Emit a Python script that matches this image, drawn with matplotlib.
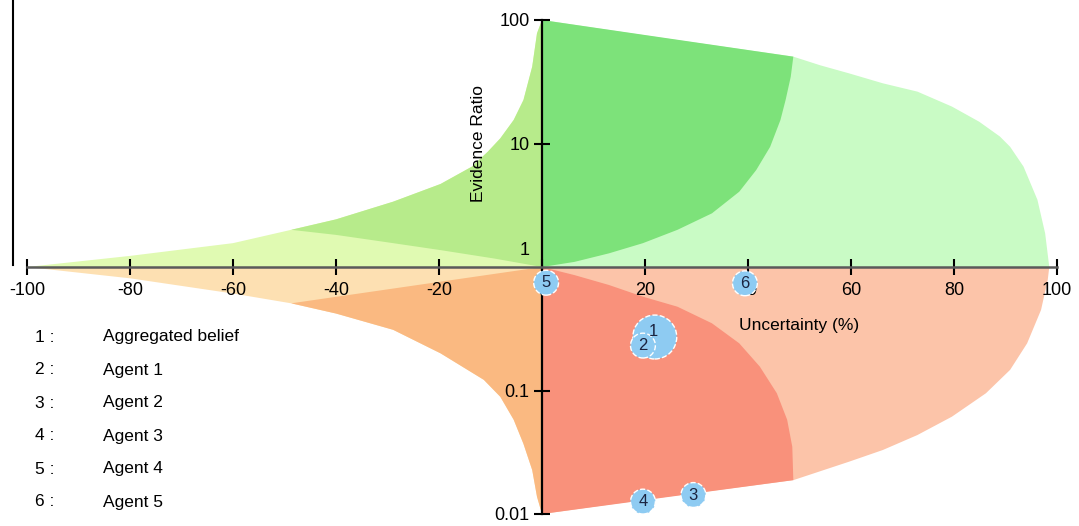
import numpy as np
import matplotlib
matplotlib.use('Agg')
import matplotlib.pyplot as plt
from matplotlib.lines import Line2D
from matplotlib.ticker import NullLocator

plt.rcParams['font.family'] = ['Liberation Sans', 'DejaVu Sans']

# ── region boundaries (uncertainty %, evidence ratio) ──
# upper right: outer edge of the light green area
ur_outer_u = [0, 24, 48.8, 54, 59.6, 66.2, 72.9, 79.6, 84.9, 88.9, 90.9, 93.5, 96.2, 97.7, 98.5]
ur_outer_r = [100, 71, 50.5, 43, 37, 30.7, 26.3, 19.9, 15, 11.4, 9.4, 6.5, 3.5, 1.87, 1]
# upper right: edge of the dark green area
ur_inner_u = [48.8, 48.3, 47.3, 46.3, 44.3, 41.6, 38.3, 33.0, 26.3, 19.6, 13.0, 6.3, 0]
ur_inner_r = [50.5, 34.7, 22.5, 15.5, 9.4, 6.1, 4.07, 2.72, 2.0, 1.56, 1.29, 1.10, 1]

# lower right: outer edge of the light salmon area
lr_outer_u = [0, 19.6, 48.8, 59.6, 66.2, 72.9, 79.6, 86.2, 90.9, 94.2, 96.9, 98.2, 98.5]
lr_outer_r = [0.01, 0.013, 0.0188, 0.0265, 0.033, 0.0436, 0.0614, 0.095, 0.147, 0.241, 0.449, 0.785, 1]
# lower right: edge of the red area
lr_inner_u = [0, 6.3, 13.0, 19.6, 26.3, 33.0, 38.3, 42.3, 45.6, 47.6, 48.6, 48.8]
lr_inner_r = [1, 0.86, 0.715, 0.575, 0.477, 0.35, 0.241, 0.156, 0.095, 0.058, 0.035, 0.0188]

# upper left
ul_outer_u = [-100, -80, -60, -48.7, -40, -28.9, -19.7, -13.6, -10.5, -8.1, -5.5, -3.6, -1.9, -0.97, 0]
ul_outer_r = [1, 1.23, 1.56, 2.0, 2.43, 3.38, 4.7, 6.5, 8.6, 11.0, 15.5, 22.5, 41.9, 78, 100]
ul_inner_u = [-48.7, -40, -28.9, -19.7, -9.2, 0]
ul_inner_r = [2.0, 1.82, 1.56, 1.37, 1.17, 1]

# lower left
ll_outer_u = [-100, -80, -60, -48.7, -40, -28.9, -19.7, -11.3, -8.1, -5.5, -3.6, -1.9, -0.97, 0]
ll_outer_r = [1, 0.81, 0.61, 0.508, 0.42, 0.31, 0.2, 0.122, 0.089, 0.058, 0.037, 0.0227, 0.0138, 0.01]
ll_inner_u = [-48.7, 0]
ll_inner_r = [0.508, 1]

# ── agents ──
agent_ids = ['1', '2', '3', '4', '5', '6']
agent_names = ['Aggregated belief', 'Agent 1', 'Agent 2', 'Agent 3', 'Agent 4', 'Agent 5']
agent_u = [21.9, 19.6, 29.4, 19.6, 0.8, 39.4]
agent_r = [0.271, 0.231, 0.01425, 0.0126, 0.746, 0.738]
agent_size = [1000, 320, 320, 320, 320, 320]

x_ticks = [-100, -80, -60, -40, -20, 0, 20, 40, 60, 80, 100]
x_tick_labels = ['-100', '-80', '-60', '-40', '-20', '0', '20', '40', '60', '80', '100']
y_ticks = [0.01, 0.1, 10, 100]
y_tick_labels = ['0.01', '0.1', '10', '100']

W, H = 1079, 526
fig = plt.figure(figsize=(W / 100, H / 100), dpi=100)
ax = fig.add_axes([27 / W, 12 / H, 1030 / W, 494 / H])
ax.set_yscale('log')
ax.set_xlim(-100, 100)
ax.set_ylim(0.01, 100)

# ── filled regions ──
ax.fill(ur_outer_u + [0], ur_outer_r + [1], color='#c9fbc5', lw=0, zorder=1)
ax.fill([0] + ur_inner_u, [100] + ur_inner_r, color='#7de27a', lw=0, zorder=1.2)

ax.fill(lr_outer_u + [0], lr_outer_r + [1], color='#fcc4a9', lw=0, zorder=1)
ax.fill(lr_inner_u + [0], lr_inner_r + [0.01], color='#f9917b', lw=0, zorder=1.2)

ax.fill(ul_outer_u + [0], ul_outer_r + [1], color='#e0fab2', lw=0, zorder=1)
ax.fill(ul_outer_u[3:] + ul_inner_u[::-1], ul_outer_r[3:] + ul_inner_r[::-1],
        color='#b7eb8b', lw=0, zorder=1.2)

ax.fill(ll_outer_u + [0], ll_outer_r + [1], color='#fde0b2', lw=0, zorder=1)
ax.fill(ll_outer_u[3:] + ll_inner_u[::-1], ll_outer_r[3:] + ll_inner_r[::-1],
        color='#fab981', lw=0, zorder=1.2)

# ── axes through the origin ──
for s in ['top', 'right']:
    ax.spines[s].set_visible(False)
ax.spines['left'].set_position(('data', 0))
ax.spines['bottom'].set_position(('data', 1))
ax.spines['left'].set_color('black')
ax.spines['left'].set_linewidth(1.6)
ax.spines['bottom'].set_color('#5a5a5a')
ax.spines['bottom'].set_linewidth(1.8)
ax.spines['left'].set_zorder(3)
ax.spines['bottom'].set_zorder(3)

ax.set_xticks(x_ticks)
ax.set_xticklabels(x_tick_labels)
ax.set_yticks(y_ticks)
ax.set_yticklabels(y_tick_labels)
ax.yaxis.set_minor_locator(NullLocator())
ax.tick_params(axis='x', direction='inout', length=12, width=1.5, color='black',
               labelsize=13, pad=5)
ax.tick_params(axis='y', direction='inout', length=12, width=1.5, color='black',
               labelsize=13, pad=3)
ax.annotate('1', xy=(0, 1), xytext=(-9, 12), textcoords='offset points',
            ha='right', va='center', fontsize=13)

ax.annotate('Evidence Ratio', xy=(0, 10), xytext=(-46, 0), textcoords='offset points',
            rotation=90, ha='center', va='center', fontsize=12.5)
ax.annotate('Uncertainty (%)', xy=(50, 1), xytext=(0, -42), textcoords='offset points',
            ha='center', va='center', fontsize=12.5)

# ── agent markers ──
ax.scatter(agent_u, agent_r, s=agent_size, c='#8ecbf2', edgecolors='white',
           linewidths=1, linestyle='--', zorder=5, clip_on=False)
for i, lab in enumerate(agent_ids):
    off = (-1, 4) if i == 0 else (0, 0)
    ax.annotate(lab, xy=(agent_u[i], agent_r[i]), xytext=off, textcoords='offset points',
                ha='center', va='center', fontsize=12, color='#1b2440', zorder=6)

# ── legend as plain text ──
for i, (lab, name) in enumerate(zip(agent_ids, agent_names)):
    y = 1 - (337 + 33 * i) / H
    fig.text(35 / W, y, f'{lab} :', ha='left', va='center', fontsize=12.5)
    fig.text(103 / W, y, name, ha='left', va='center', fontsize=12.5)

# stray window border line at the left
fig.add_artist(Line2D([12.7 / W, 12.7 / W], [1, 1 - 265 / H], color='black', lw=1.5))

fig.savefig('out.png', dpi=100)
